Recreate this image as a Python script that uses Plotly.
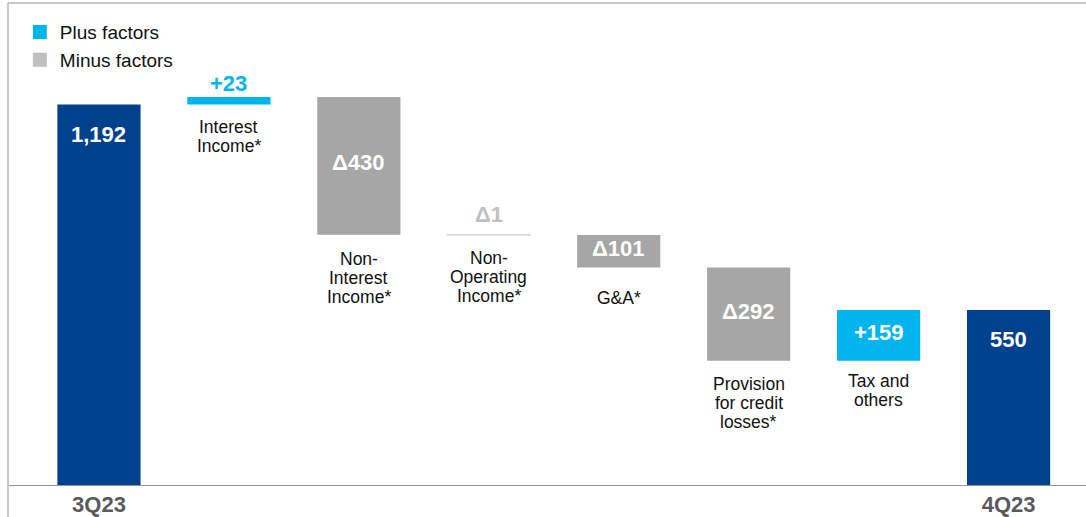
import plotly.graph_objects as go

# ---- data ----
categories = ["3Q23", "Interest Income*", "Non-Interest Income*", "Non-Operating Income*",
              "G&A*", "Provision for credit losses*", "Tax and others", "4Q23"]
start_value = 1192
deltas = [23, -430, -1, -101, -292, 159]
end_value = 550
value_labels = ["1,192", "+23", "Δ430", "Δ1", "Δ101", "Δ292", "+159", "550"]
category_lines = [["Interest", "Income*"], ["Non-", "Interest", "Income*"],
                  ["Non-", "Operating", "Income*"], ["G&A*"],
                  ["Provision", "for credit", "losses*"], ["Tax and", "others"]]
tick_labels = ["3Q23", "", "", "", "", "", "", "4Q23"]
legend_names = ["Plus factors", "Minus factors"]

# ---- style ----
DARK = "#00418E"
CYAN = "#00B5EE"
GRAY = "#A6A6A6"
LIGHT = "#D9D9D9"
LIGHT_TXT = "#BFBFBF"
FONT = "Liberation Sans, Arial, sans-serif"
label_gap = [23, 24, 23, 31, 23, 20]   # px below bar bottom for first line
line_step = 19

# ---- build bars ----
bases, heights, colors, lw, kinds = [0], [start_value], [DARK], [0], ["total"]
level = start_value
for d in deltas:
    bases.append(min(level, level + d))
    heights.append(abs(d))
    if abs(d) < 5:
        colors.append(LIGHT); lw.append(1.5)
    else:
        colors.append(CYAN if d > 0 else GRAY); lw.append(0)
    kinds.append("plus" if d > 0 else "minus")
    level += d
bases.append(0); heights.append(end_value); colors.append(DARK); lw.append(0); kinds.append("total")

fig = go.Figure()
fig.add_trace(go.Bar(x=categories, y=heights, base=bases, width=0.64,
                     marker=dict(color=colors, line=dict(color=LIGHT, width=lw)),
                     showlegend=False, hoverinfo="skip"))
fig.add_trace(go.Scatter(x=[None], y=[None], name=legend_names[0], mode="markers",
                         marker=dict(symbol="square", size=14, color=CYAN)))
fig.add_trace(go.Scatter(x=[None], y=[None], name=legend_names[1], mode="markers",
                         marker=dict(symbol="square", size=14, color="#BFBFBF")))

ann = []
for i, (c, b, h, k, t) in enumerate(zip(categories, bases, heights, kinds, value_labels)):
    top = b + h
    if k == "total":
        ann.append(dict(x=c, y=top, text=f"<b>{t}</b>", showarrow=False, yanchor="middle",
                        yshift=-30, font=dict(color="white", size=22, family=FONT)))
    elif h < 50:
        col = CYAN if k == "plus" else LIGHT_TXT
        sh = 14 if k == "plus" else 20
        ann.append(dict(x=c, y=top, text=f"<b>{t}</b>", showarrow=False, yanchor="middle",
                        yshift=sh, font=dict(color=col, size=22, family=FONT)))
    else:
        ann.append(dict(x=c, y=b + h / 2, text=f"<b>{t}</b>", showarrow=False, yanchor="middle",
                        yshift=3, font=dict(color="white", size=22, family=FONT)))

for j, lines in enumerate(category_lines):
    i = j + 1
    for n, ln in enumerate(lines):
        ann.append(dict(x=categories[i], y=bases[i], text=ln, showarrow=False, yanchor="middle",
                        yshift=-(label_gap[j] + n * line_step),
                        font=dict(color="#111111", size=17.5, family=FONT)))

shapes = [
    dict(type="line", xref="paper", yref="y", x0=0, x1=1, y0=0, y1=0,
         line=dict(color="#939393", width=2)),
    dict(type="line", xref="paper", yref="paper", x0=0, x1=1, y0=1, y1=1,
         line=dict(color="#C8C8C8", width=2)),
    dict(type="line", xref="paper", yref="paper", x0=0, x1=0, y0=-0.07, y1=1,
         line=dict(color="#C8C8C8", width=2)),
]

fig.update_layout(
    width=1086, height=517,
    margin=dict(l=8, r=0, t=3, b=31, autoexpand=False),
    plot_bgcolor="white", paper_bgcolor="white",
    barmode="overlay",
    annotations=ann, shapes=shapes,
    xaxis=dict(range=[-0.7, 7.596], showgrid=False, zeroline=False, showline=False,
               tickmode="array", tickvals=categories,
               ticktext=[f"<b>{t}</b>" if t else "" for t in tick_labels],
               tickfont=dict(size=22, color="#595959", family=FONT), ticks="",
               ticklabelstandoff=3, automargin=False),
    yaxis=dict(range=[0, 1509], visible=False, automargin=False),
    legend=dict(x=0.011, y=0.979, xanchor="left", yanchor="top", bgcolor="rgba(0,0,0,0)",
                font=dict(size=19, color="#111111", family=FONT), tracegroupgap=0,
                itemwidth=30),
    font=dict(family=FONT),
)

fig.write_html("out.html", config={"displayModeBar": False},
               post_script="document.body.style.margin='0';document.body.style.overflow='hidden';")
